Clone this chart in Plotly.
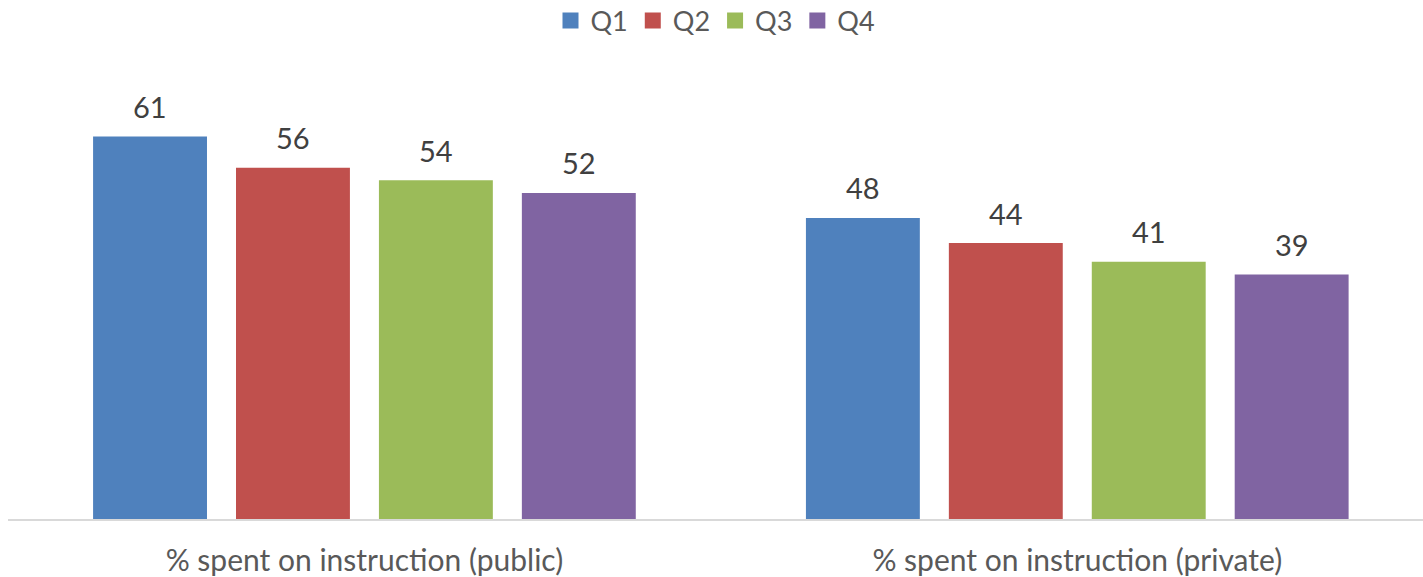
import plotly.graph_objects as go

categories = ["% spent on instruction (public)", "% spent on instruction (private)"]
series_names = ["Q1", "Q2", "Q3", "Q4"]
q1 = [61, 48]
q2 = [56, 44]
q3 = [54, 41]
q4 = [52, 39]
series_values = [q1, q2, q3, q4]
colors = ["#4F81BD", "#C0504D", "#9BBB59", "#8064A2"]

FONT = "Lato, Open Sans, sans-serif"
BARGAP = 0.198
BARGROUPGAP = 0.203

positions = list(range(len(categories)))
n_series = len(series_names)
slot = (1 - BARGAP) / n_series

fig = go.Figure()
for k, (name, vals, col) in enumerate(zip(series_names, series_values, colors)):
    fig.add_trace(go.Bar(
        name=name,
        x=positions,
        y=vals,
        marker=dict(color=col, line=dict(width=0)),
        showlegend=False,
    ))
    # legend entry with a larger square swatch
    fig.add_trace(go.Scatter(
        name=name,
        x=[None],
        y=[None],
        mode="markers",
        marker=dict(symbol="square", size=18, color=col),
        showlegend=True,
    ))
    # value labels above each bar
    offset = (k - (n_series - 1) / 2) * slot
    for p, v in zip(positions, vals):
        fig.add_annotation(
            x=p + offset, y=v, xref="x", yref="y",
            text=str(v), showarrow=False,
            yanchor="middle", yshift=30,
            font=dict(family=FONT, size=29, color="#404040"),
        )

fig.update_layout(
    width=1423,
    height=577,
    margin=dict(l=8, r=0, t=80, b=58),
    paper_bgcolor="white",
    plot_bgcolor="white",
    barmode="group",
    bargap=BARGAP,
    bargroupgap=BARGROUPGAP,
    showlegend=True,
    legend=dict(
        orientation="h",
        x=0.5,
        xanchor="center",
        y=1 - 21 / 577,
        yref="container",
        yanchor="middle",
        font=dict(family=FONT, size=27, color="#595959"),
        itemwidth=30,
        tracegroupgap=0,
    ),
    xaxis=dict(
        range=[-0.5, 1.485],
        tickmode="array",
        tickvals=positions,
        ticktext=categories,
        showgrid=False,
        showline=True,
        linecolor="#D9D9D9",
        linewidth=2,
        zeroline=False,
        ticks="",
        ticklabelstandoff=14,
        tickfont=dict(family=FONT, size=30, color="#595959"),
    ),
    yaxis=dict(
        range=[0, 70],
        showgrid=False,
        showticklabels=False,
        zeroline=False,
        showline=False,
        ticks="",
    ),
)

fig.write_html("out.html")
